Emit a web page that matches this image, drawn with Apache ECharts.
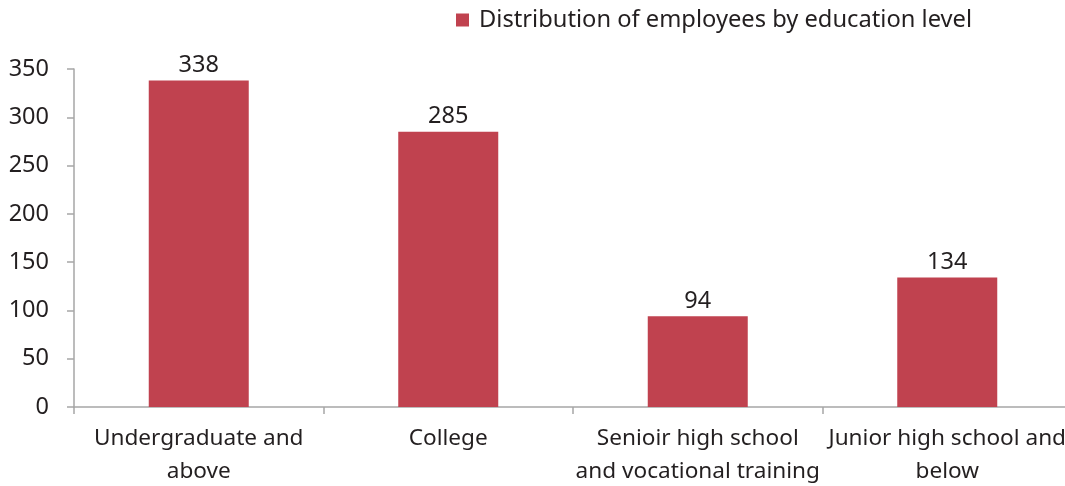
<!DOCTYPE html>
<html>
<head>
<meta charset="utf-8">
<script src="https://cdn.jsdelivr.net/npm/echarts@6/dist/echarts.min.js"></script>
<style>
  html, body { margin: 0; padding: 0; background: #fff; }
  #chart { width: 1065px; height: 486px; }
</style>
</head>
<body>
<div id="chart"></div>
<script>
// Employees by education level
const categories = [
  'Undergraduate and\nabove',
  'College',
  'Senioir high school\nand vocational training',
  'Junior high school and\nbelow'
];
const seriesName = 'Distribution of employees by education level';
const employees = [338, 285, 94, 134];
const yTicks = { min: 0, max: 350, interval: 50 };

const textColor = '#231F20';
const axisColor = '#A6A6A6';
const barColor = '#C0424F';
const fontFamily = '"Noto Sans", "Open Sans", sans-serif';

const chart = echarts.init(document.getElementById('chart'), null, { renderer: 'canvas' });
chart.setOption({
  animation: false,
  textStyle: { fontFamily: fontFamily, color: textColor },
  legend: {
    data: [seriesName],
    left: 451,
    top: 3,
    icon: 'rect',
    itemWidth: 13,
    itemHeight: 13,
    itemGap: 10,
    textStyle: { fontFamily: fontFamily, fontSize: 23.7, color: textColor, padding: [0, 0, 0, 5] }
  },
  grid: {
    left: 74, right: -7, top: 69, bottom: 79,
    containLabel: false,
    outerBoundsMode: 'none'
  },
  xAxis: {
    type: 'category',
    data: categories,
    axisLine: { lineStyle: { color: axisColor, width: 1.5 } },
    axisTick: { show: true, length: 7, lineStyle: { color: axisColor, width: 1.5 } },
    axisLabel: {
      interval: 0,
      margin: 15,
      fontFamily: fontFamily,
      fontSize: 22.6,
      lineHeight: 33,
      color: textColor
    }
  },
  yAxis: {
    type: 'value',
    min: yTicks.min,
    max: yTicks.max,
    interval: yTicks.interval,
    splitLine: { show: false },
    axisLine: { show: true, lineStyle: { color: axisColor, width: 1.5 } },
    axisTick: { show: true, length: 7, lineStyle: { color: axisColor, width: 1.5 } },
    axisLabel: { margin: 25, fontFamily: fontFamily, fontSize: 23.5, color: textColor }
  },
  series: [{
    name: seriesName,
    type: 'bar',
    data: employees,
    barWidth: 100,
    itemStyle: { color: barColor },
    label: {
      show: true,
      position: 'top',
      distance: 3,
      fontFamily: fontFamily,
      fontSize: 23.5,
      color: textColor
    }
  }]
});
</script>
</body>
</html>
